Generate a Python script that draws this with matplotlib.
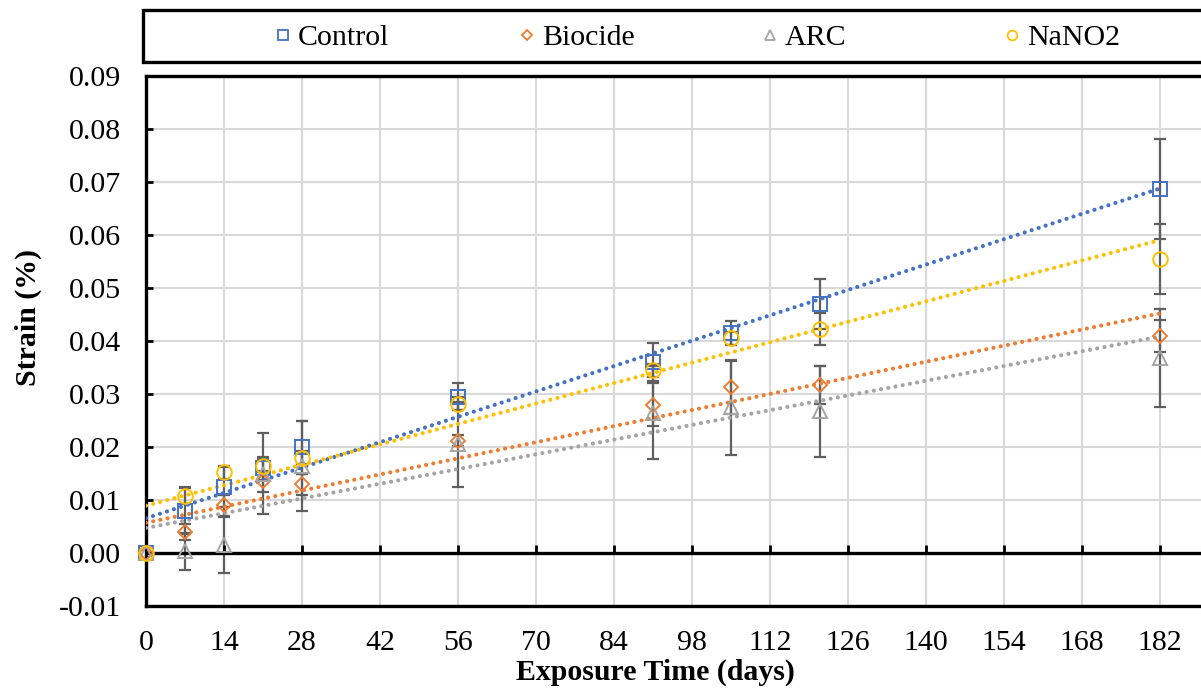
import numpy as np
import matplotlib
matplotlib.use("Agg")
import matplotlib.pyplot as plt
from matplotlib.lines import Line2D
from matplotlib.patches import Rectangle

plt.rcParams['font.family'] = ['Liberation Serif', 'DejaVu Serif']

days = [0, 7, 14, 21, 28, 56, 91, 105, 121, 182]

control = [0.0, 0.0080, 0.0125, 0.0160, 0.0200, 0.0295, 0.0360, 0.0415, 0.0470, 0.0687]
control_err = [0.0, 0.0045, 0.0038, 0.0022, 0.0050, 0.0025, 0.0036, 0.0022, 0.0047, 0.0095]

biocide = [0.0, 0.0040, 0.0090, 0.0135, 0.0130, 0.0212, 0.0280, 0.0313, 0.0317, 0.0410]
biocide_err = [0.0, 0.0015, 0.0020, 0.0020, 0.0020, 0.0010, 0.0040, 0.0050, 0.0035, 0.0030]

arc = [0.0, 0.0003, 0.0015, 0.0150, 0.0165, 0.0205, 0.0265, 0.0275, 0.0267, 0.0368]
arc_err = [0.0, 0.0035, 0.0052, 0.0076, 0.0085, 0.0080, 0.0087, 0.0090, 0.0085, 0.0092]

nano2 = [0.0, 0.0108, 0.0152, 0.0165, 0.0180, 0.0282, 0.0345, 0.0405, 0.0422, 0.0555]
nano2_err = [0.0, 0.0015, 0.0012, 0.0012, 0.0012, 0.0012, 0.0012, 0.0012, 0.0030, 0.0066]

names = ['Control', 'Biocide', 'ARC', 'NaNO2']
colors = ['#4472C4', '#ED7D31', '#A5A5A5', '#FFC000']
markers = ['s', 'D', '^', 'o']
msizes = [9.5, 7.0, 9.5, 10.5]

xticks = list(range(0, 183, 14))
yticks = [-0.01, 0.0, 0.01, 0.02, 0.03, 0.04, 0.05, 0.06, 0.07, 0.08, 0.09]

W, H = 1201, 688
fig = plt.figure(figsize=(W / 100, H / 100), dpi=100)
ax = fig.add_axes([146 / W, 82 / H, (W - 146) / W, 530 / H])

x = np.array(days, dtype=float)
series = [(control, control_err), (biocide, biocide_err), (arc, arc_err), (nano2, nano2_err)]

ax.set_xlim(0, (W - 146) / 78.0 * 14)
ax.set_ylim(-0.01, 0.09)
ax.set_xticks(xticks)
ax.set_yticks(yticks)
ax.set_yticklabels([f"{v:.2f}" for v in yticks])
ax.grid(True, color='#D9D9D9', linewidth=1.5, zorder=0)
ax.set_axisbelow(True)

# error bars
for (vals, errs), c in zip(series, colors):
    ax.errorbar(x, vals, yerr=errs, fmt='none', ecolor='#5F5F5F', elinewidth=1.6,
                capsize=4.3, capthick=1.6, zorder=3)

# trend lines (linear fits)
xx = np.array([0.0, 182.0])
for (vals, errs), c in zip(series, colors):
    k, b = np.polyfit(x, vals, 1)
    ax.plot(xx, k * xx + b, color=c, linewidth=3.0, linestyle=(0, (0.01, 1.75)),
            dash_capstyle='round', zorder=4)

# markers
for (vals, errs), c, m, ms in zip(series, colors, markers, msizes):
    ax.plot(x, vals, linestyle='none', marker=m, markersize=ms, markerfacecolor='none',
            markeredgecolor=c, markeredgewidth=1.4, zorder=7, clip_on=False)

# zero axis line with tick marks
ax.axhline(0, color='black', linewidth=2.4, zorder=6)
ax.plot(xticks, [0] * len(xticks), linestyle='none', marker=2, markersize=6,
        markeredgewidth=2.0, color='black', zorder=6)

for s in ['left', 'bottom', 'top']:
    ax.spines[s].set_linewidth(2.4)
    ax.spines[s].set_color('black')
ax.spines['right'].set_visible(False)

ax.tick_params(axis='x', length=0, pad=17, labelsize=21.5)
ax.tick_params(axis='y', direction='in', length=5, width=2.0, pad=18, labelsize=21.5)

ax.set_xlabel('Exposure Time (days)', fontsize=21.5, fontweight='bold')
ax.xaxis.set_label_coords((655 - 146) / (W - 146), -(672 - 606) / 530)
ax.xaxis.label.set_va('center')
ax.set_ylabel('Strain (%)', fontsize=21.5, fontweight='bold')
ax.yaxis.set_label_coords(-(146 - 28) / (W - 146), (606 - 318) / 530)
ax.yaxis.label.set_va('center')

# legend box
fig.patches.append(Rectangle((143 / W, (H - 62) / H), (W - 143 + 10) / W, 52 / H,
                             transform=fig.transFigure, facecolor='white',
                             edgecolor='black', linewidth=2.4, zorder=1))
leg_x = [283, 527, 770, 1012]
for name, c, m, px in zip(names, colors, markers, leg_x):
    h = Line2D([], [], linestyle='none', marker=m, markersize=7.0 if m != 'D' else 5.5,
               markerfacecolor='none', markeredgecolor=c, markeredgewidth=1.3)
    hl = 0.6
    lg = fig.legend([h], [name], loc='center left',
                    bbox_to_anchor=((px - hl * 21.5 * 1.389 / 2) / W, (H - 38) / H),
                    frameon=False, handlelength=hl, handletextpad=0.2, borderpad=0,
                    borderaxespad=0, fontsize=21.5)
    lg.set_zorder(3)

fig.savefig('out.png', dpi=100)
